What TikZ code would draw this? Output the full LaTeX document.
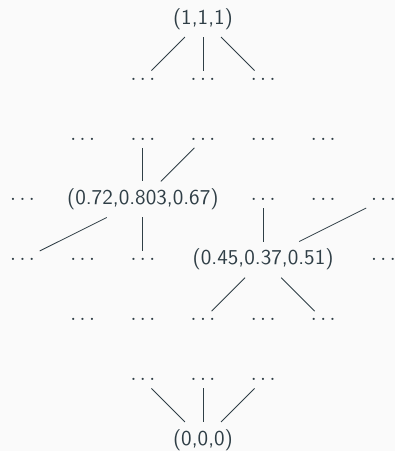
\documentclass[tikz,border=0pt]{standalone}
\usepackage{xcolor}
\definecolor{ink}{HTML}{2F3E46}
\definecolor{paper}{HTML}{FAFAFA}
\tikzset{
  pt/.style={text=ink, font=\sffamily},
  gap/.style={pt},
  link/.style={draw=ink, line width=0.4pt}
}
\begin{document}
\begin{tikzpicture}[x=1cm,y=1cm]
  % canvas
  \fill[paper] (-3.375,-7.183) rectangle (3.193,0.316);
  \useasboundingbox (-3.375,-7.183) rectangle (3.193,0.316);

  % top and bottom elements
  \node[pt] (top) at (0,0) {(1,1,1)};
  \node[pt] (bot) at (0,-7) {(0,0,0)};

  % row 2
  \node[gap] (r2a) at (-1,-1) {$\dots$};
  \node[gap] (r2b) at ( 0,-1) {$\dots$};
  \node[gap] (r2c) at ( 1,-1) {$\dots$};

  % row 3
  \node[gap] (r3a) at (-2,-2) {$\dots$};
  \node[gap] (r3b) at (-1,-2) {$\dots$};
  \node[gap] (r3c) at ( 0,-2) {$\dots$};
  \node[gap] (r3d) at ( 1,-2) {$\dots$};
  \node[gap] (r3e) at ( 2,-2) {$\dots$};

  % row 4
  \node[gap] (r4a) at (-3,-3) {$\dots$};
  \node[pt]  (A)   at (-1,-3) {(0.72,0.803,0.67)};
  \node[gap] (r4c) at ( 1,-3) {$\dots$};
  \node[gap] (r4d) at ( 2,-3) {$\dots$};
  \node[gap] (r4e) at ( 3,-3) {$\dots$};

  % row 5
  \node[gap] (r5a) at (-3,-4) {$\dots$};
  \node[gap] (r5b) at (-2,-4) {$\dots$};
  \node[gap] (r5c) at (-1,-4) {$\dots$};
  \node[pt]  (B)   at ( 1,-4) {(0.45,0.37,0.51)};
  \node[gap] (r5e) at ( 3,-4) {$\dots$};

  % row 6
  \node[gap] (r6a) at (-2,-5) {$\dots$};
  \node[gap] (r6b) at (-1,-5) {$\dots$};
  \node[gap] (r6c) at ( 0,-5) {$\dots$};
  \node[gap] (r6d) at ( 1,-5) {$\dots$};
  \node[gap] (r6e) at ( 2,-5) {$\dots$};

  % row 7
  \node[gap] (r7a) at (-1,-6) {$\dots$};
  \node[gap] (r7b) at ( 0,-6) {$\dots$};
  \node[gap] (r7c) at ( 1,-6) {$\dots$};

  % covering relations
  \draw[link] (top) -- (r2a);
  \draw[link] (top) -- (r2b);
  \draw[link] (top) -- (r2c);

  \draw[link] (r3b) -- (A);
  \draw[link] (r3c) -- (A);
  \draw[link] (A) -- (r5a);
  \draw[link] (A) -- (r5c);

  \draw[link] (r4c) -- (B);
  \draw[link] (r4e) -- (B);
  \draw[link] (B) -- (r6c);
  \draw[link] (B) -- (r6e);

  \draw[link] (r7a) -- (bot);
  \draw[link] (r7b) -- (bot);
  \draw[link] (r7c) -- (bot);
\end{tikzpicture}
\end{document}
